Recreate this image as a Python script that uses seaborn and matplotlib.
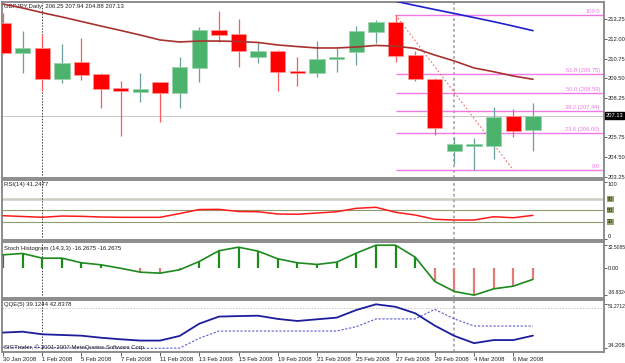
import matplotlib
matplotlib.use("Agg")
import matplotlib.pyplot as plt
import numpy as np
import pandas as pd
import seaborn as sns

DATES = [
    "30 Jan 2008", "31 Jan 2008", "1 Feb 2008", "4 Feb 2008", "5 Feb 2008",
    "6 Feb 2008", "7 Feb 2008", "8 Feb 2008", "11 Feb 2008", "12 Feb 2008",
    "13 Feb 2008", "14 Feb 2008", "15 Feb 2008", "18 Feb 2008", "19 Feb 2008",
    "20 Feb 2008", "21 Feb 2008", "22 Feb 2008", "25 Feb 2008", "26 Feb 2008",
    "27 Feb 2008", "28 Feb 2008", "29 Feb 2008", "3 Mar 2008", "4 Mar 2008",
    "5 Mar 2008", "6 Mar 2008", "7 Mar 2008",
]
OPEN = [213.00, 211.09, 211.45, 209.44, 210.54, 209.78, 208.89, 208.65, 209.25, 208.57,
        210.18, 212.57, 212.32, 210.88, 211.26, 209.95, 209.84, 210.71, 211.17, 212.44,
        213.08, 210.96, 209.48, 204.89, 205.23, 205.23, 207.11, 206.25]
HIGH = [213.67, 212.53, 212.30, 211.68, 212.04, 209.86, 209.31, 209.86, 209.29, 210.88,
        212.74, 213.78, 213.25, 211.83, 211.30, 210.88, 211.89, 211.41, 212.82, 213.21,
        213.53, 211.26, 209.54, 205.80, 205.69, 207.70, 207.57, 207.94]
LOW = [211.05, 209.86, 208.72, 209.19, 209.40, 207.64, 205.84, 208.02, 206.71, 207.60,
       209.29, 211.83, 210.24, 210.49, 208.72, 209.02, 209.57, 209.92, 210.35, 211.73,
       210.56, 209.35, 205.90, 204.05, 203.67, 204.36, 205.80, 204.88]
CLOSE = [211.09, 211.45, 209.46, 210.49, 209.73, 208.84, 208.68, 208.82, 208.57, 210.20,
         212.57, 212.27, 211.26, 211.26, 209.90, 209.82, 210.71, 210.84, 212.49, 213.08,
         210.92, 209.44, 206.37, 205.31, 205.31, 207.07, 206.18, 207.13]

MA_SLOW = [214.22, 213.97, 213.67, 213.40, 213.11, 212.82, 212.54, 212.25, 211.94, 211.81,
           211.87, 211.87, 211.84, 211.78, 211.62, 211.52, 211.43, 211.43, 211.49, 211.59,
           211.55, 211.40, 210.98, 210.60, 210.16, 209.92, 209.65, 209.44]
MA_LONG = [np.nan] * 19 + [214.70, 214.40, 214.13, 213.87, 213.62, 213.36, 213.10, 212.82, 212.53]

FIB_LEVELS = ["0.0", "23.6 (206.00)", "38.2 (207.44)", "50.0 (208.59)", "61.8 (209.75)", "100.0"]
FIB_PRICES = [203.67, 206.00, 207.44, 208.59, 209.75, 213.53]

RSI = [40.6, 39.2, 37.8, 40.0, 39.5, 38.3, 37.8, 37.8, 37.8, 44.4,
       51.5, 51.8, 48.0, 47.6, 43.6, 43.2, 45.3, 47.6, 53.6, 55.4,
       46.6, 41.8, 34.2, 33.0, 33.0, 38.8, 37.0, 41.25]
STOCH = [18.8, 20.7, 14.0, 14.0, 7.4, 4.5, -0.5, -6.0, -7.4, -2.6,
         9.3, 24.6, 29.7, 24.0, 13.1, 7.4, 5.0, 8.3, 21.2, 32.5,
         32.51, 15.5, -19.3, -33.6, -38.83, -29.8, -26.0, -16.27]
QQE_MAIN = [40.3, 40.65, 39.64, 39.37, 39.1, 38.3, 37.7, 37.2, 37.2, 39.0,
            43.75, 46.5, 46.7, 46.85, 45.6, 44.8, 45.45, 46.1, 49.05, 51.27,
            50.3, 47.8, 43.0, 39.0, 36.2, 37.4, 37.4, 39.12]
QQE_SIGNAL = [34.6, 34.5, 34.5, 34.4, 34.4, 34.3, 34.21, 34.21, 34.21, 34.3,
              38.1, 40.9, 40.9, 40.9, 40.9, 40.9, 40.9, 40.9, 42.6, 45.6,
              45.6, 45.6, 49.3, 45.6, 42.86, 42.84, 42.84, 42.84]

W, H = 625, 363
BULL, BEAR = "#4bb36c", "#ff0000"
TXT = 4.3     # pane captions / dates
AXT = 4.15    # right-hand scale
AXT_LONG = 3.65  # long indicator scale values


def pane(fig, top, bottom):
    return fig.add_axes([2 / W, 1 - bottom / H, 602 / W, (bottom - top) / H])


def style_pane(ax):
    for sp in ax.spines.values():
        sp.set_color("#8c8c8c")
        sp.set_linewidth(1.4)
    ax.set_xlim(-0.05, 30.62)
    ax.yaxis.tick_right()
    ax.tick_params(axis="y", length=2, width=0.5, pad=0.6, labelsize=AXT,
                   colors="#202020", right=True, left=False)
    ax.set_xlabel("")
    ax.set_ylabel("")
    for xv, col, lw in [(2, "#404040", 0.7), (23, "#a8a8a8", 1.3)]:
        ax.axvline(xv, color=col, lw=lw, ls=(0, (1.5, 1.5)), zorder=1)


sns.set_theme(style="white")
plt.rcParams["font.family"] = ["Liberation Sans", "DejaVu Sans"]

df = pd.DataFrame({
    "bar": np.arange(len(DATES)), "open": OPEN, "high": HIGH, "low": LOW, "close": CLOSE,
    "ma_slow": MA_SLOW, "ma_long": MA_LONG, "rsi": RSI, "stoch": STOCH,
    "qqe": QQE_MAIN, "qqe_sig": QQE_SIGNAL,
})

fig = plt.figure(figsize=(W / 100, H / 100), dpi=100)
ax_p = pane(fig, 2, 178)
ax_r = pane(fig, 180, 240)
ax_s = pane(fig, 242, 298)
ax_q = pane(fig, 300, 352)

# price pane
bull = df["close"] >= df["open"]
wick_cols = np.where(bull, "#6d9f9c", "#ff5a5a")
ax_p.vlines(df["bar"], df["low"], df["high"], colors=wick_cols, lw=0.9, zorder=3)
body_lo = np.minimum(df["open"], df["close"])
body_h = np.maximum((df["close"] - df["open"]).abs(), 0.07)
ax_p.bar(df["bar"], body_h, bottom=body_lo, width=0.78,
         color=np.where(bull, BULL, BEAR),
         edgecolor=np.where(bull, "#9bd3ad", "#ff9a9a"), linewidth=0.5, zorder=4)

sns.lineplot(data=df, x="bar", y="ma_slow", ax=ax_p, color="#a8322f", lw=1.2, zorder=5)
sns.lineplot(data=df.dropna(subset=["ma_long"]), x="bar", y="ma_long", ax=ax_p,
             color="#1f1fd0", lw=1.2, zorder=5)

ax_p.axhline(CLOSE[-1], color="#c8c8c8", lw=0.7, zorder=1)
for lbl, price in zip(FIB_LEVELS, FIB_PRICES):
    ax_p.hlines(price, 20, 30.7, color="#f078e8", lw=1.0, zorder=2)
    ax_p.annotate(lbl, xy=(0.993, price), xycoords=ax_p.get_yaxis_transform(),
                  xytext=(0, 0.8), textcoords="offset points", ha="right", va="bottom",
                  fontsize=AXT, color="#f078e8")
ax_p.plot([20, 26], [FIB_PRICES[-1], FIB_PRICES[0]], color="#f06a6a", lw=0.8,
          ls=(0, (1.5, 2)), zorder=2)

ax_p.set_ylim(203.17, 214.35)
price_ticks = [213.25, 212.00, 210.75, 209.50, 208.25, 205.75, 204.50, 203.25]
ax_p.set_yticks(price_ticks)
ax_p.set_yticklabels([f"{v:.2f}" for v in price_ticks])
ax_p.text(1.0035, CLOSE[-1], f"{CLOSE[-1]:.2f}", transform=ax_p.get_yaxis_transform(),
          ha="left", va="center", fontsize=AXT, color="white",
          bbox=dict(facecolor="black", edgecolor="black", pad=0.5))
ax_p.text(0.004, 0.977, "GBPJPY,Daily  206.25 207.94 204.88 207.13", transform=ax_p.transAxes,
          ha="left", va="center", fontsize=TXT, color="#202020")

# RSI pane
ax_r.axhline(70, color="#c9d0c3", lw=1.8, zorder=1)
ax_r.axhline(50, color="#8f9c6e", lw=0.8, zorder=1)
ax_r.axhline(30, color="#8f9c6e", lw=0.8, zorder=1)
sns.lineplot(data=df, x="bar", y="rsi", ax=ax_r, color="#ff1a1a", lw=1.1, zorder=3)
ax_r.set_ylim(-2.2, 103.5)
ax_r.set_yticks([100, 0])
ax_r.set_yticklabels(["100", "0"])
for lv in [70, 50, 30]:
    ax_r.text(1.005, lv, str(lv), transform=ax_r.get_yaxis_transform(), ha="left",
              va="center", fontsize=AXT, color="#1e2a10",
              bbox=dict(facecolor="#95a36c", edgecolor="none", pad=0.3))
ax_r.text(0.004, 0.917, "RSI(14) 41.2477", transform=ax_r.transAxes,
          ha="left", va="center", fontsize=TXT, color="#202020")

# stochastic histogram pane
hist_cols = np.where(df["stoch"] >= 0, "#1d8a1d", "#e27a7a")
ax_s.vlines(df["bar"], 0, df["stoch"], colors=hist_cols, lw=1.6, zorder=2)
sns.lineplot(data=df, x="bar", y="stoch", ax=ax_s, color="#1d8a1d", lw=1.2, zorder=3)
ax_s.set_ylim(-42.9, 37.1)
ax_s.set_yticks([32.5085, 0, -38.8324])
ax_s.set_yticklabels(["32.5085", "0.00", "-38.8324"])
ax_s.text(0.004, 0.89, "Stoch Histogram (14,3,3) -16.2675 -16.2675", transform=ax_s.transAxes,
          ha="left", va="center", fontsize=TXT, color="#202020")

# QQE pane
ax_q.axhline(50, color="#c8c8c8", lw=0.7, ls=(0, (1.5, 1.5)), zorder=1)
sns.lineplot(data=df, x="bar", y="qqe_sig", ax=ax_q, color="#5a5ad6", lw=0.8,
             linestyle=(0, (2, 1.5)), zorder=2)
sns.lineplot(data=df, x="bar", y="qqe", ax=ax_q, color="#1c1c9c", lw=1.3, zorder=3)
ax_q.set_ylim(32.77, 52.94)
ax_q.set_yticks([51.2712, 34.208])
ax_q.set_yticklabels(["51.2712", "34.208"])
ax_q.text(0.004, 0.904, "QQE(5) 39.1244 42.8378", transform=ax_q.transAxes,
          ha="left", va="center", fontsize=TXT, color="#202020")
ax_q.text(0.004, 0.096, "SIGTrader, \u00a9 2001-2007 MetaQuotes Software Corp.",
          transform=ax_q.transAxes, ha="left", va="center", fontsize=TXT, color="#202020")

for ax in (ax_p, ax_r, ax_s, ax_q):
    style_pane(ax)
for ax in (ax_p, ax_r, ax_s):
    ax.set_xticks([])

# keep the scale ends inside their own pane
for lbl in ax_r.get_yticklabels():
    lbl.set_va("top" if lbl.get_text() == "100" else "bottom")
for ax in (ax_s, ax_q):
    labels = ax.get_yticklabels()
    labels[0].set_va("top")
    labels[-1].set_va("bottom")
    for lbl in labels:
        if len(lbl.get_text()) > 6:
            lbl.set_fontsize(AXT_LONG)

tick_bars = list(range(0, len(DATES), 2))
ax_q.set_xticks(tick_bars)
ax_q.set_xticklabels([DATES[i] for i in tick_bars], ha="left")
ax_q.tick_params(axis="x", bottom=True, direction="out", length=3, width=0.5, pad=0.5,
                 labelsize=TXT, colors="#202020")

fig.savefig("out.png", dpi=100)
